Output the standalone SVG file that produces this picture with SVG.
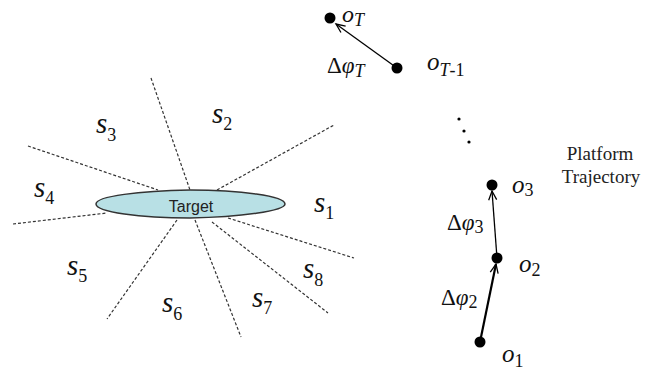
<svg xmlns="http://www.w3.org/2000/svg" width="652" height="372" viewBox="0 0 652 372">
<style>
.sec{stroke:#333;stroke-width:1.2;stroke-dasharray:3 2;fill:none}
.m{font-style:italic;fill:#111}
.s{font-size:29px}
.o{font-size:25px}
.oT{font-size:24px}
.sub{font-size:18px;font-style:normal}
.subi{font-size:18px;font-style:italic}
.d{font-size:23px;fill:#111}
.dot{fill:#000}
.arr{stroke:#000;fill:none}
.lbl{font-size:19px;fill:#222;text-anchor:middle}
</style>
<defs>
<marker id="ah" markerUnits="userSpaceOnUse" markerWidth="12" markerHeight="12" refX="10" refY="5" orient="auto">
<path d="M1,1 L10,5 L1,9" stroke="#000" stroke-width="1.3" fill="none"/>
</marker>
</defs>
<g id="sectors">
<line class="sec" x1="151" y1="78" x2="190" y2="190"/>
<line class="sec" x1="217" y1="190" x2="334" y2="125"/>
<line class="sec" x1="28" y1="146" x2="158" y2="190"/>
<line class="sec" x1="13" y1="224" x2="107" y2="213"/>
<line class="sec" x1="177" y1="220" x2="107" y2="319"/>
<line class="sec" x1="195" y1="220" x2="241" y2="337"/>
<line class="sec" x1="212" y1="222" x2="328" y2="313"/>
<line class="sec" x1="228" y1="218" x2="354" y2="258"/>
</g>
<g id="target">
<path d="M96,204 C96,196 140,191 190,190 C240,190 285,196 285,204 C285,211 240,217 190,218 C140,218 96,212 96,204 Z" fill="#b8e0e5" stroke="#333" stroke-width="1.5"/>
<text x="191" y="212" font-family="Liberation Sans, Arial, sans-serif" font-size="16" text-anchor="middle" fill="#222">Target</text>
</g>
<g id="sector-labels" font-family="Liberation Serif, DejaVu Serif, serif">
<text class="m s" x="314" y="212">s<tspan class="sub" dy="7">1</tspan></text>
<text class="m s" x="212" y="123">s<tspan class="sub" dy="7">2</tspan></text>
<text class="m s" x="96" y="133">s<tspan class="sub" dy="8">3</tspan></text>
<text class="m s" x="34" y="197">s<tspan class="sub" dy="7">4</tspan></text>
<text class="m s" x="67" y="275">s<tspan class="sub" dy="7">5</tspan></text>
<text class="m s" x="162" y="312">s<tspan class="sub" dy="8">6</tspan></text>
<text class="m s" x="252" y="307">s<tspan class="sub" dy="7">7</tspan></text>
<text class="m s" x="303" y="278">s<tspan class="sub" dy="8">8</tspan></text>
</g>
<g id="connectors">
<line class="arr" stroke-width="1.3" x1="397" y1="68" x2="336" y2="24" marker-end="url(#ah)"/>
<line class="arr" stroke-width="1.3" x1="497" y1="258" x2="492" y2="191" marker-end="url(#ah)"/>
<line class="arr" stroke-width="2.2" x1="480" y1="342" x2="496" y2="264" marker-end="url(#ah)"/>
</g>
<g id="oT" font-family="Liberation Serif, DejaVu Serif, serif">
<circle class="dot" cx="330" cy="18" r="5.5"/>
<text class="m oT" x="342" y="22">o<tspan class="subi" dy="4">T</tspan></text>
</g>
<g id="oT-1" font-family="Liberation Serif, DejaVu Serif, serif">
<circle class="dot" cx="397" cy="68" r="5.5"/>
<text class="m o" x="427" y="70">o<tspan class="subi" dy="6">T</tspan><tspan class="sub">-1</tspan></text>
</g>
<g id="ellipsis">
<circle class="dot" cx="459" cy="119" r="1.6"/>
<circle class="dot" cx="464" cy="131" r="1.6"/>
<circle class="dot" cx="469" cy="142" r="1.6"/>
</g>
<g id="o3" font-family="Liberation Serif, DejaVu Serif, serif">
<circle class="dot" cx="492" cy="185" r="5.5"/>
<text class="m o" x="512" y="193">o<tspan class="sub" dy="3">3</tspan></text>
</g>
<g id="o2" font-family="Liberation Serif, DejaVu Serif, serif">
<circle class="dot" cx="497" cy="258" r="5.5"/>
<text class="m o" x="519" y="272">o<tspan class="sub" dy="4">2</tspan></text>
</g>
<g id="o1" font-family="Liberation Serif, DejaVu Serif, serif">
<circle class="dot" cx="480" cy="342" r="5.5"/>
<text class="m o" x="502" y="362">o<tspan class="sub" dy="5">1</tspan></text>
</g>
<g id="delta-labels" font-family="Liberation Serif, DejaVu Serif, serif">
<text class="d" x="327" y="73">Δ<tspan font-style="italic">φ</tspan><tspan class="subi" dy="4">T</tspan></text>
<text class="d" x="447" y="230">Δ<tspan font-style="italic">φ</tspan><tspan class="sub" dy="3">3</tspan></text>
<text class="d" x="441" y="305">Δ<tspan font-style="italic">φ</tspan><tspan class="sub" dy="3">2</tspan></text>
</g>
<g id="platform-label" font-family="Liberation Serif, DejaVu Serif, serif">
<text class="lbl" x="600" y="160">Platform</text>
<text class="lbl" x="601" y="183">Trajectory</text>
</g>
</svg>
